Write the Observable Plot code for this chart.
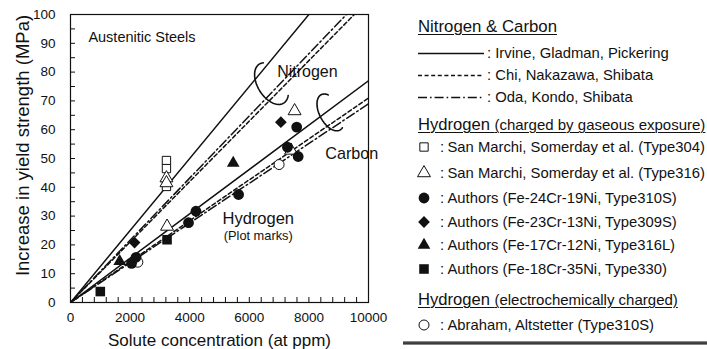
<!DOCTYPE html>
<html>
<head>
<meta charset="utf-8">
<script src="https://cdn.jsdelivr.net/npm/d3@7"></script>
<script src="https://cdn.jsdelivr.net/npm/@observablehq/plot@0.6"></script>
<style>
  html, body { margin: 0; padding: 0; background: #fff; }
  body { width: 707px; height: 349px; position: relative; overflow: hidden;
         font-family: "Liberation Sans", Arial, Helvetica, sans-serif; color: #111; }
  #chart { position: absolute; left: 0; top: 0; }
  .lg { position: absolute; white-space: nowrap; height: 20px; line-height: 20px; }
  .hd { text-decoration: underline; text-decoration-thickness: 1px; text-underline-offset: 2px; }
  .row { font-size: 14.8px; }
  .sym { position: absolute; }
  #shade { position: absolute; left: 403px; top: 341px; width: 304px; height: 4px;
           background: linear-gradient(#aaa, #333 45%, #333 60%, #aaa); }
</style>
</head>
<body>
<div id="chart"></div>
<div id="legend"></div>
<div id="shade"></div>
<script>
// ---- Strengthening lines from the literature (MPa per at ppm of solute) ----
const lineSources = ["Irvine, Gladman, Pickering", "Chi, Nakazawa, Shibata", "Oda, Kondo, Shibata"];
const nitrogenSlope = [0.0125, 0.0105, 0.0108];
const carbonSlope = [0.0077, 0.0071, 0.0069];

// ---- Hydrogen data: [solute concentration (at ppm), increase in yield strength (MPa)] ----
const sanMarchi304 = [[3220, 49.3], [3220, 46.5], [3220, 40.3]];
const sanMarchi316 = [[3220, 43.2], [3220, 41.5], [3240, 26.4], [7400, 52.8], [7520, 66.5]];
const fe24Cr19Ni = [[2050, 13.6], [2200, 15.7], [3960, 27.7], [4210, 31.7], [5640, 37.5], [7280, 53.9], [7590, 60.9], [7640, 50.7]];
const fe23Cr13Ni = [[2150, 20.8], [7060, 62.6]];
const fe17Cr12Ni = [[1650, 14.3], [5460, 48.4]];
const fe18Cr35Ni = [[1000, 3.8], [3240, 21.8]];
const abraham310S = [[2260, 14.0], [7000, 47.9]];

// ---- Legend texts ----
const hydrogenGasLabels = [
  "San Marchi, Somerday et al. (Type304)",
  "San Marchi, Somerday et al. (Type316)",
  "Authors (Fe-24Cr-19Ni, Type310S)",
  "Authors (Fe-23Cr-13Ni, Type309S)",
  "Authors (Fe-17Cr-12Ni, Type316L)",
  "Authors (Fe-18Cr-35Ni, Type330)"
];
const hydrogenElectroLabels = ["Abraham, Altstetter (Type310S)"];

// ---- Axis ticks ----
const xTickLabels = [0, 2000, 4000, 6000, 8000, 10000];
const yTickLabels = [0, 10, 20, 30, 40, 50, 60, 70, 80, 90, 100];
const xMinorTicks = d3.range(0, 10001, 400);
const yMinorTicks = d3.range(0, 101, 5);

const FONT = '"Liberation Sans", Arial, Helvetica, sans-serif';
const dashes = [null, "4,2.6", "9,3,1.6,3"];

// frame geometry
const W = 400, H = 349, ML = 70, MR = 32, MT = 14, MB = 47;
const xDomain = [0, 10000], yDomain = [0, 100];
const xPerPx = (xDomain[1] - xDomain[0]) / (W - ML - MR);
const yPerPx = (yDomain[1] - yDomain[0]) / (H - MT - MB);

// marker look for each hydrogen series
const hydrogenSeries = [
  {data: sanMarchi304, symbol: "square",   d3sym: d3.symbolSquare,   r: 4.7, open: true},
  {data: sanMarchi316, symbol: "triangle", d3sym: d3.symbolTriangle, r: 4.8, open: true},
  {data: fe24Cr19Ni,   symbol: "circle",   d3sym: d3.symbolCircle,   r: 5.4, open: false},
  {data: fe23Cr13Ni,   symbol: "diamond2", d3sym: d3.symbolDiamond2, r: 5.3, open: false},
  {data: fe17Cr12Ni,   symbol: "triangle", d3sym: d3.symbolTriangle, r: 4.7, open: false},
  {data: fe18Cr35Ni,   symbol: "square",   d3sym: d3.symbolSquare,   r: 5.4, open: false}
];
const electroSeries = [
  {data: abraham310S, symbol: "circle", d3sym: d3.symbolCircle, r: 5.0, open: true}
];

// open elliptical loops bundling each family of lines (center in data units, radii in px)
const loops = [
  {x: 6745, y: 76.0, a: 23, b: 13.8, angle: 58, t0: -0.6, t1: Math.PI + 0.3},
  {x: 8725, y: 66.0, a: 20, b: 11, angle: 62, t0: -0.3, t1: Math.PI + 0.6}
];
function loopPoints(L) {
  const pts = [], n = 60, c = Math.cos(L.angle * Math.PI / 180), s = Math.sin(L.angle * Math.PI / 180);
  for (let i = 0; i <= n; ++i) {
    const t = L.t0 + (L.t1 - L.t0) * i / n;
    const u = L.a * Math.cos(t), v = L.b * Math.sin(t);
    const px = u * c - v * s, py = u * s + v * c; // screen offsets, y downward
    pts.push({x: L.x + px * xPerPx, y: L.y - py * yPerPx});
  }
  return pts;
}

const notes = [
  {x: 600,  y: 92.0, text: "Austenitic Steels", size: 14.5, anchor: "start"},
  {x: 7950, y: 80.0, text: "Nitrogen", size: 16, anchor: "middle"},
  {x: 6300, y: 29.0, text: "Hydrogen", size: 16.5, anchor: "middle"},
  {x: 6300, y: 23.3, text: "(Plot marks)", size: 12.8, anchor: "middle"}
];

// straight lines through the origin
function lineRows(slope) {
  return [{x: 0, y: 0}, {x: 10000, y: slope * 10000}];
}

const marks = [];
// inward ticks
marks.push(Plot.ruleX(xMinorTicks, {x: d => d, insetTop: 283, stroke: "#111", strokeWidth: 1}));
marks.push(Plot.ruleY(yMinorTicks, {y: d => d, insetRight: 293, stroke: "#111", strokeWidth: 1}));

lineSources.forEach((s, i) => {
  for (const slope of [nitrogenSlope[i], carbonSlope[i]]) {
    marks.push(Plot.line(lineRows(slope), {
      x: "x", y: "y", clip: true, stroke: "#111", strokeWidth: 1.5,
      strokeDasharray: dashes[i]
    }));
  }
});

for (const L of loops) {
  marks.push(Plot.line(loopPoints(L), {x: "x", y: "y", stroke: "#111", strokeWidth: 1.6}));
}

// open markers first, filled markers on top
const allSeries = [...hydrogenSeries, ...electroSeries];
for (const s of allSeries.filter(s => s.open)) {
  marks.push(Plot.dot(s.data, {x: d => d[0], y: d => d[1], symbol: s.symbol, r: s.r,
    fill: "white", stroke: "#111", strokeWidth: 1}));
}
for (const s of allSeries.filter(s => !s.open)) {
  marks.push(Plot.dot(s.data, {x: d => d[0], y: d => d[1], symbol: s.symbol, r: s.r,
    fill: "#111", stroke: "none"}));
}

for (const n of notes) {
  marks.push(Plot.text([n], {x: "x", y: "y", text: "text", fontSize: n.size, textAnchor: n.anchor, fill: "#111"}));
}
marks.push(Plot.text([{x: 9440, y: 51.7, text: "Carbon"}], {x: "x", y: "y", text: "text", fontSize: 16.2,
  fill: "#111", stroke: "white", strokeWidth: 4}));

marks.push(Plot.frame({stroke: "#111", strokeWidth: 1.2}));

// tick labels
marks.push(Plot.text(xTickLabels, {x: d => d, frameAnchor: "bottom", lineAnchor: "top", dy: 10,
  text: d => String(d), fontSize: 13.5, fill: "#111"}));
marks.push(Plot.text(yTickLabels, {y: d => d, frameAnchor: "left", textAnchor: "end", dx: -15,
  text: d => String(d), fontSize: 13.5, fill: "#111"}));

// axis titles
marks.push(Plot.text(["Solute concentration (at ppm)"], {frameAnchor: "bottom", lineAnchor: "bottom", dy: 43,
  fontSize: 17, fill: "#111"}));
marks.push(Plot.text(["Increase in yield strength (MPa)"], {frameAnchor: "left", textAnchor: "middle",
  lineAnchor: "bottom", rotate: -90, dx: -42, dy: -13, fontSize: 18.5, fill: "#111"}));

const chart = Plot.plot({
  width: W, height: H,
  marginLeft: ML, marginRight: MR, marginTop: MT, marginBottom: MB,
  x: {domain: xDomain, axis: null},
  y: {domain: yDomain, axis: null},
  style: {fontFamily: FONT, background: "transparent", color: "#111", overflow: "visible"},
  marks
});
document.getElementById("chart").append(chart);

// ---- Legend ----
const legend = document.getElementById("legend");
function addDiv(html, left, cy, cls) {
  const d = document.createElement("div");
  d.className = "lg " + (cls || "");
  d.style.left = left + "px";
  d.style.top = (cy - 10) + "px";
  d.innerHTML = html;
  legend.append(d);
  return d;
}
function symbolSvg(s) {
  const path = d3.symbol(s.d3sym, Math.PI * s.r * s.r)();
  return `<svg class="sym" width="16" height="16" viewBox="-8 -8 16 16" style="left:0;top:2px">` +
    `<path d="${path}" fill="${s.open ? "white" : "#111"}" stroke="${s.open ? "#111" : "none"}" stroke-width="1"/></svg>`;
}

addDiv(`<span style="font-size:16.8px">Nitrogen &amp; Carbon</span>`, 418, 27, "hd");
const lineRowY = [53, 75, 97];
lineSources.forEach((s, i) => {
  const svg = `<svg width="66" height="20" style="vertical-align:top"><line x1="0" x2="66" y1="10.5" y2="10.5" stroke="#111" stroke-width="1.4"${dashes[i] ? ` stroke-dasharray="${dashes[i]}"` : ""}/></svg>`;
  addDiv(svg, 418, lineRowY[i]);
  addDiv(`: ${s}`, 487, lineRowY[i], "row");
});

addDiv(`<span style="font-size:16.6px">Hydrogen</span> <span style="font-size:15px">(charged by gaseous exposure)</span>`, 418, 125, "hd");
const gasRowY = [146.5, 172.5, 197.5, 221.5, 245, 268.5];
hydrogenSeries.forEach((s, i) => {
  const d = addDiv(symbolSvg(s), 416, gasRowY[i]);
  d.style.width = "16px";
  addDiv(`:`, 440, gasRowY[i], "row");
  addDiv(hydrogenGasLabels[i], 447.5, gasRowY[i], "row");
});

addDiv(`<span style="font-size:16.6px">Hydrogen</span> <span style="font-size:15px">(electrochemically charged)</span>`, 418, 300, "hd");
electroSeries.forEach((s, i) => {
  const d = addDiv(symbolSvg(s), 416, 325);
  d.style.width = "16px";
  addDiv(`:`, 440, 325, "row");
  addDiv(hydrogenElectroLabels[i], 447.5, 325, "row");
});
</script>
</body>
</html>
